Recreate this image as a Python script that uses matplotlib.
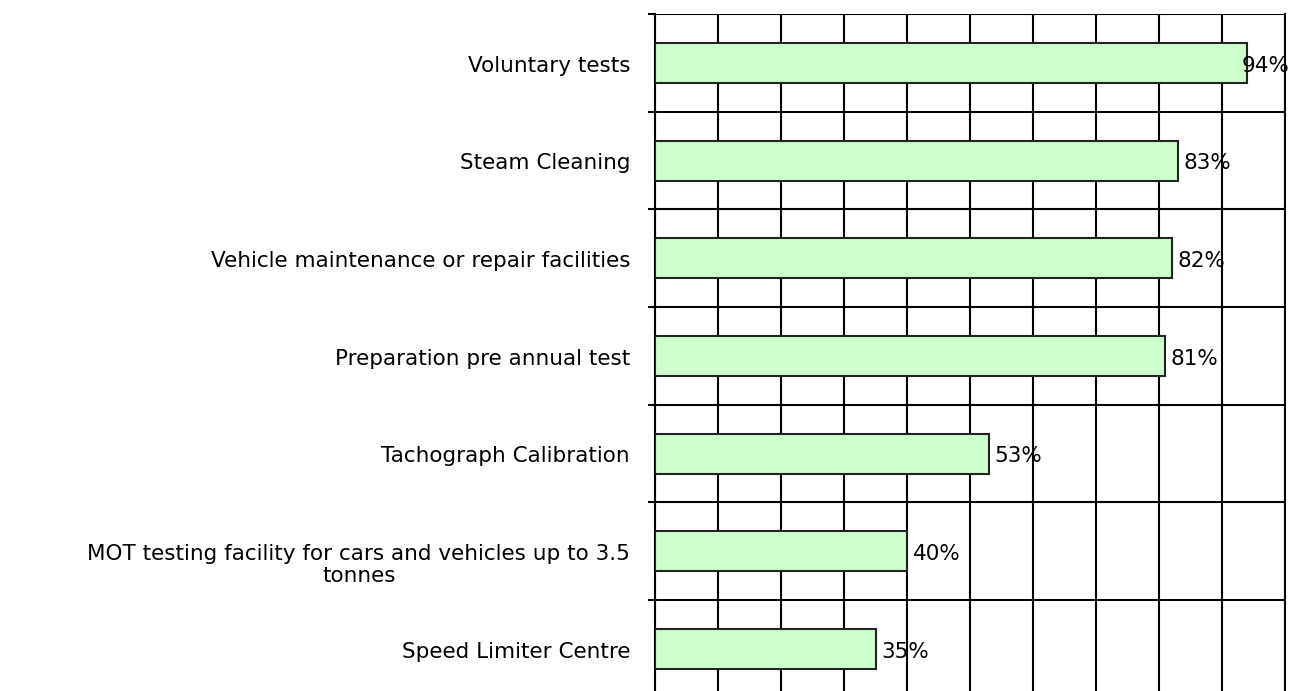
import matplotlib.pyplot as plt
import numpy as np

categories = [
    "Voluntary tests",
    "Steam Cleaning",
    "Vehicle maintenance or repair facilities",
    "Preparation pre annual test",
    "Tachograph Calibration",
    "MOT testing facility for cars and vehicles up to 3.5\ntonnes",
    "Speed Limiter Centre",
]
values = [94, 83, 82, 81, 53, 40, 35]
value_labels = ["94%", "83%", "82%", "81%", "53%", "40%", "35%"]

FS = 15.5

fig = plt.figure(figsize=(13.05, 6.91), dpi=100)
ax = fig.add_axes([0.502, -0.0097, 0.4826, 0.9894])

n = len(categories)
y = np.arange(n)

ax.barh(y, values, height=0.41, color="#ccffcc", edgecolor="#222222",
        linewidth=1.5, zorder=3)

for yi, v, lab in zip(y, values, value_labels):
    # the last label would run past the frame, so it is pulled back over the bar
    dx = 4 if v < 90 else -4
    ax.annotate(lab, (v, yi), xytext=(dx, -2), textcoords="offset points",
                ha="left", va="center", fontsize=FS, color="black", zorder=4)

ax.set_xlim(0, 100)
ax.set_ylim(n - 0.5, -0.5)

# vertical grid every 10 %
ax.set_xticks(np.arange(0, 101, 10))
ax.tick_params(axis="x", length=0, labelbottom=False)
ax.grid(axis="x", color="black", linewidth=1.5, zorder=1)

# horizontal lines between categories, with small tick stubs
ax.set_yticks(np.arange(-0.5, n, 1.0))
ax.set_yticklabels([])
ax.tick_params(axis="y", which="major", length=5, width=1.5, direction="out")
ax.grid(axis="y", which="major", color="black", linewidth=1.5, zorder=1)

# category labels
trans = ax.get_yaxis_transform()
for yi, cat in zip(y, categories):
    dy = -10 if "\n" in cat else -2
    ax.annotate(cat, (0, yi), xycoords=trans, xytext=(-18, dy),
                textcoords="offset points", ha="right", va="center",
                multialignment="center", fontsize=FS, color="black",
                linespacing=1.1, annotation_clip=False)

for s in ["top", "right", "left", "bottom"]:
    ax.spines[s].set_linewidth(1.5)
    ax.spines[s].set_color("black")
ax.spines["top"].set_visible(False)

fig.savefig("out.png", dpi=100)
